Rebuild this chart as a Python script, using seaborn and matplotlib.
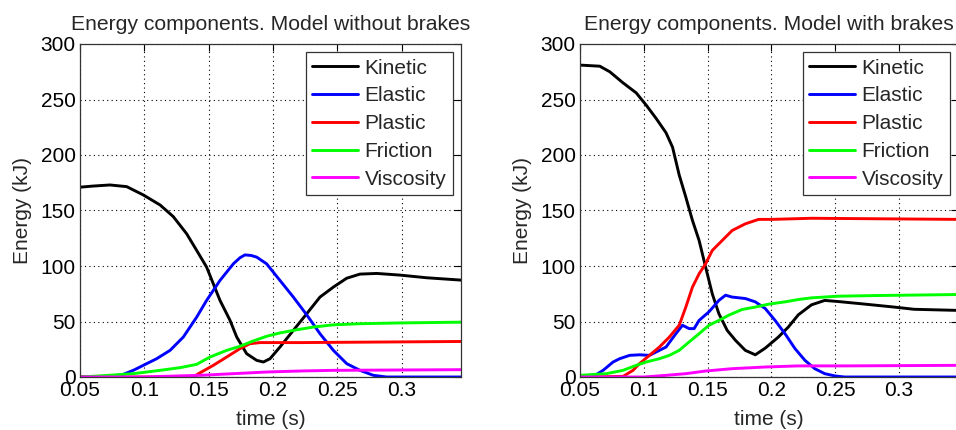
import matplotlib
matplotlib.use("Agg")
import matplotlib.pyplot as plt
import seaborn as sns
import pandas as pd

# ---------------- data: model without brakes ----------------
nb_kin_t = [0.05, 0.06, 0.0733, 0.0863, 0.0992, 0.1122, 0.1225, 0.1329, 0.1407, 0.1484, 0.1536,
            0.1588, 0.1666, 0.1718, 0.1795, 0.1873, 0.1925, 0.1977, 0.2054, 0.2158, 0.2262,
            0.2365, 0.2469, 0.2573, 0.2676, 0.2806, 0.2987, 0.3194, 0.3461]
nb_kin_v = [171, 172, 173, 171.5, 164, 155, 144.5, 129, 114, 99, 84,
            69, 51, 36, 21, 15, 13.5, 16.5, 27, 42, 57,
            72, 81, 89, 92.7, 93.3, 91.8, 89.4, 87.3]

nb_ela_t = [0.05, 0.0733, 0.0837, 0.0914, 0.0992, 0.1096, 0.12, 0.1303, 0.1407, 0.1484, 0.1588,
            0.1692, 0.1744, 0.1782, 0.1830, 0.1873, 0.1950, 0.2054, 0.2158, 0.2262, 0.2365,
            0.2469, 0.2573, 0.2676, 0.278, 0.2883, 0.3461]
nb_ela_v = [0, 0.5, 2.4, 6, 10.5, 16.5, 24, 36, 54, 69, 87,
            102, 107.5, 110, 109.5, 108, 102, 87, 72, 56, 39,
            24, 12, 6, 1.5, 0, 0]

nb_pla_t = [0.05, 0.138, 0.143, 0.1536, 0.164, 0.1744, 0.182, 0.19, 0.2210, 0.3461]
nb_pla_v = [0, 0, 3.6, 10.5, 18, 25.6, 30, 31, 31, 32]

nb_fri_t = [0.05, 0.0655, 0.0914, 0.1122, 0.1277, 0.1407, 0.1510, 0.1640, 0.1744, 0.1847, 0.1951,
            0.2054, 0.2158, 0.2313, 0.2469, 0.2676, 0.2987, 0.3461]
nb_fri_v = [0, 1, 3, 6, 8.4, 11.4, 18, 24, 27.7, 32.5, 36.7,
            39.7, 42, 45, 47, 48, 48.7, 49.4]

nb_vis_t = [0.05, 0.1, 0.1122, 0.1433, 0.1692, 0.1951, 0.2210, 0.2469, 0.3461]
nb_vis_v = [0, 0, 0.5, 1.5, 3, 4.5, 5.4, 6, 6.6]

# ---------------- data: model with brakes ----------------
wb_kin_t = [0.05, 0.0655, 0.0733, 0.0837, 0.094, 0.1018, 0.1096, 0.1174, 0.1225, 0.1277, 0.1329,
            0.1381, 0.1433, 0.1484, 0.1536, 0.1588, 0.1653, 0.1718, 0.1795, 0.1873, 0.1951,
            0.2054, 0.2132, 0.221, 0.2313, 0.2417, 0.2521, 0.2702, 0.2961, 0.3117, 0.3461]
wb_kin_v = [281, 280, 275, 265, 256, 245, 233, 220, 207, 182, 162,
            141, 123, 99, 75, 57, 42, 33, 24, 20, 26,
            36, 45, 56, 65, 69, 68, 66, 63, 61, 60]

wb_ela_t = [0.05, 0.0604, 0.0681, 0.0759, 0.0811, 0.0889, 0.0966, 0.1044, 0.1096, 0.1174, 0.1251,
            0.1303, 0.1355, 0.1394, 0.1433, 0.151, 0.1588, 0.164, 0.1692, 0.1795, 0.1873,
            0.1951, 0.2028, 0.2106, 0.2184, 0.2262, 0.2339, 0.2417, 0.2495, 0.2572, 0.3461]
wb_ela_v = [0, 0.5, 6, 13.5, 16.5, 19.5, 20, 19.5, 22.5, 27, 39,
            46.6, 43.6, 43.6, 51, 58.7, 69, 73.7, 72, 70.7, 67.7,
            61.7, 51, 39, 25.6, 15, 7.5, 3, 1, 0, 0]

wb_pla_t = [0.05, 0.0837, 0.0915, 0.0966, 0.1044, 0.1122, 0.12, 0.1277, 0.1329, 0.1381, 0.1433,
            0.1484, 0.1536, 0.1614, 0.1692, 0.1795, 0.1899, 0.2003, 0.2313, 0.3461]
wb_pla_v = [0, 0.5, 6, 12, 19.5, 27, 36, 46.6, 63, 81, 93,
            102, 114, 123, 132, 138, 142, 142, 143, 142]

wb_fri_t = [0.05, 0.0707, 0.0837, 0.094, 0.1018, 0.1122, 0.12, 0.1277, 0.1355, 0.1433, 0.151,
            0.1588, 0.1666, 0.1769, 0.1873, 0.1977, 0.2106, 0.221, 0.2313, 0.2521, 0.2832, 0.3461]
wb_fri_v = [1.5, 3, 6, 10.5, 13.5, 16.5, 19.5, 24, 31.6, 39, 46.6,
            51, 55.7, 60.8, 63, 65.6, 67.7, 69.8, 71.3, 72.8, 73.4, 74.3]

wb_vis_t = [0.05, 0.1, 0.1174, 0.1329, 0.1484, 0.1692, 0.1951, 0.221, 0.2572, 0.3461]
wb_vis_v = [0, 0, 1.5, 3, 5.4, 7.5, 9, 10, 10, 10.5]

names = ["Kinetic", "Elastic", "Plastic", "Friction", "Viscosity"]
colors = ["#000000", "#0000ff", "#ff0000", "#00ff00", "#ff00ff"]
titles = ["Energy components. Model without brakes", "Energy components. Model with brakes"]
xticks = [0.05, 0.1, 0.15, 0.2, 0.25, 0.3]
xticklabels = ["0.05", "0.1", "0.15", "0.2", "0.25", "0.3"]
yticks = [0, 50, 100, 150, 200, 250, 300]

panels = [
    [(nb_kin_t, nb_kin_v), (nb_ela_t, nb_ela_v), (nb_pla_t, nb_pla_v), (nb_fri_t, nb_fri_v), (nb_vis_t, nb_vis_v)],
    [(wb_kin_t, wb_kin_v), (wb_ela_t, wb_ela_v), (wb_pla_t, wb_pla_v), (wb_fri_t, wb_fri_v), (wb_vis_t, wb_vis_v)],
]

sns.set_style("white")
plt.rcParams["font.family"] = ["Liberation Sans", "DejaVu Sans"]

fig = plt.figure(figsize=(9.56, 4.30), dpi=100)
ax_pos = [[80 / 956, 1 - 377 / 430, 381 / 956, 333 / 430],
          [580 / 956, 1 - 377 / 430, 378 / 956, 333 / 430]]

FS = 15
for i, series in enumerate(panels):
    ax = fig.add_axes(ax_pos[i])
    for name, col, (t, v) in zip(names, colors, series):
        df = pd.DataFrame({"time": t, "energy": v})
        sns.lineplot(data=df, x="time", y="energy", ax=ax, color=col, lw=2.1,
                     label=name, estimator=None, sort=True)
    ax.set_xlim(0.05, 0.3461)
    ax.set_ylim(0, 300)
    ax.set_xticks(xticks)
    ax.set_xticklabels(xticklabels)
    ax.set_yticks(yticks)
    ax.tick_params(direction="in", length=5, width=0.8, labelsize=FS, colors="black",
                   top=True, right=True, pad=3)
    ax.grid(True, linestyle=(0, (1, 3)), color="black", lw=0.8)
    for sp in ax.spines.values():
        sp.set_visible(True)
        sp.set_color("#333333")
        sp.set_linewidth(0.9)
    ax.set_xlabel("time (s)", fontsize=FS, labelpad=7)
    ax.set_ylabel("Energy (kJ)", fontsize=FS, labelpad=6)
    ax.set_title(titles[i], fontsize=15.2, pad=10)
    leg = ax.legend(loc="upper right", fontsize=FS, frameon=True, fancybox=False,
                    edgecolor="#333333", framealpha=1, handlelength=2.2, handletextpad=0.3,
                    labelspacing=0.42, borderaxespad=0.4, borderpad=0.3)
    leg.get_frame().set_linewidth(0.9)

fig.savefig("out.png", dpi=100)
